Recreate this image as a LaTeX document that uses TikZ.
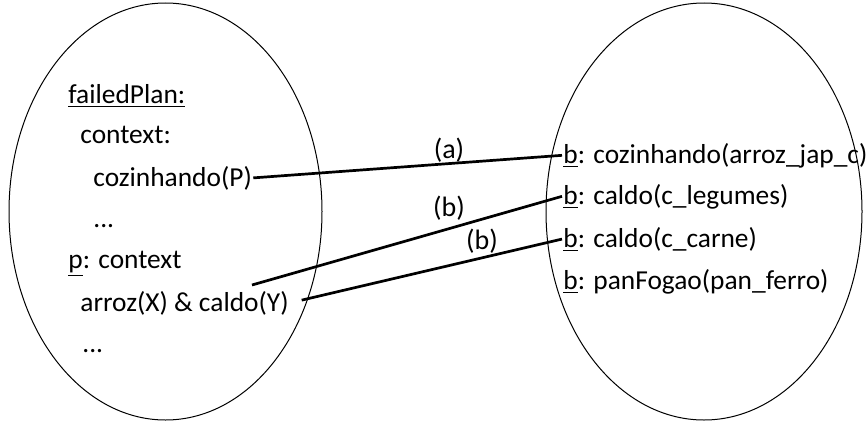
\documentclass[tikz,border=0pt]{standalone}
\usepackage{fontspec}
\setmainfont{Carlito}
\usetikzlibrary{positioning}
\tikzset{
  plan/.style={draw=black, line width=0.5pt},
  term/.style={inner sep=0.5pt, anchor=base west, font=\fontsize{13.7}{16}\selectfont},
  link/.style={line width=1.35pt},
  tag/.style={inner sep=1pt, font=\fontsize{14}{16}\selectfont}
}

\begin{document}
\begin{tikzpicture}[x=0.5pt, y=-0.5pt]
  \useasboundingbox (0,0) rectangle (867,423);
  % the two sets
  \draw[plan] (165.5,211.5) ellipse [x radius=156.5, y radius=208.5];
  \draw[plan] (704,211.5) ellipse [x radius=158, y radius=208.5];
  % plan side
  \node[term] (fp) at (67,103) {\underline{failedPlan:}};
  \node[term] (ctx) at (79,143) {context:};
  \node[term] (coz) at (92,186) {cozinhando(P)};
  \node[term] (dots1) at (92,227) {...};
  \node[term] (pctx) at (67,268) {\underline{p}: context};
  \node[term] (arroz) at (79,311) {arroz(X) \& caldo(Y)};
  \node[term] (dots2) at (81,352) {...};
  % belief side
  \node[term] (b1) at (562,163) {\underline{b}: cozinhando(arroz\_jap\_c)};
  \node[term] (b2) at (562,204) {\underline{b}: caldo(c\_legumes)};
  \node[term] (b3) at (562,247) {\underline{b}: caldo(c\_carne)};
  \node[term] (b4) at (562,289) {\underline{b}: panFogao(pan\_ferro)};
  % links
  \coordinate (xstart) at (252,285);
  \draw[link] (coz.east) -- (b1.west);
  \draw[link] (xstart) -- (b2.west);
  \draw[link, shorten <=6pt] (arroz.east) -- (b3.west);
  \node[tag] (la) at (449,150) {(a)};
  \node[tag] (lb1) at (449,208) {(b)};
  \node[tag] (lb2) at (482,241) {(b)};
\end{tikzpicture}
\end{document}
